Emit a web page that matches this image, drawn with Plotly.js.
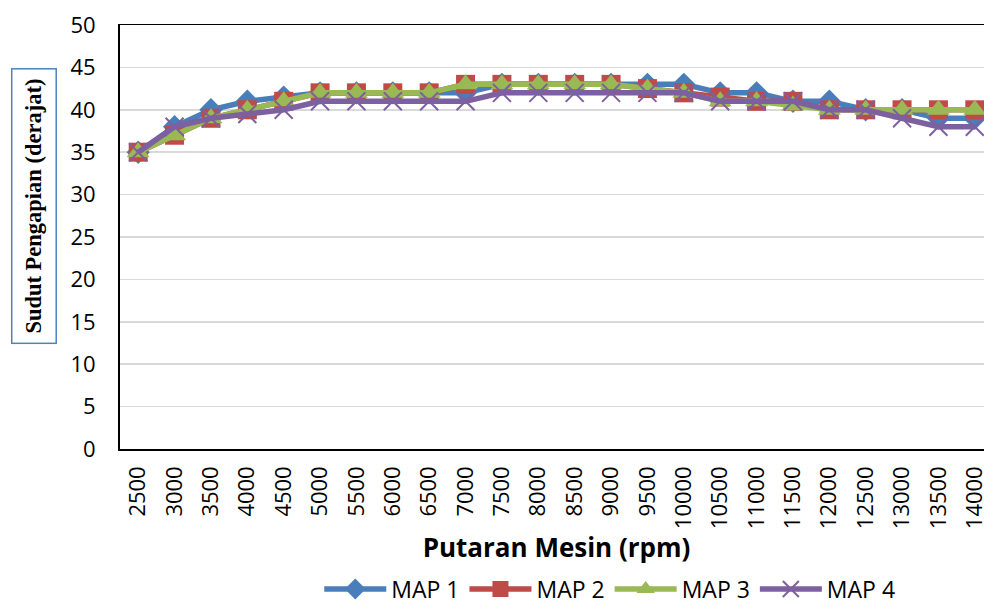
<!DOCTYPE html>
<html>
<head>
<meta charset="utf-8">
<script src="https://cdn.plot.ly/plotly-3.0.1.min.js"></script>
<style>
html,body{margin:0;padding:0;overflow:hidden;background:#fff;width:984px;height:606px;}
#chart{width:1010px;height:606px;}
</style>
</head>
<body>
<div id="chart"></div>
<script>
var rpm = ['2500','3000','3500','4000','4500','5000','5500','6000','6500','7000','7500','8000','8500','9000','9500','10000','10500','11000','11500','12000','12500','13000','13500','14000'];
var map1 = [35,38,40,41,41.5,42,42,42,42,42,43,43,43,43,43,43,42,42,41,41,40,40,39,39];
var map2 = [35,37,39,40,41,42,42,42,42,43,43,43,43,43,42.5,42,41.5,41,41,40,40,40,40,40];
var map3 = [35,37,39,40,41,42,42,42,42,43,43,43,43,43,42.5,42,41,41,40.5,40,40,40,40,40];
var map4 = [35,38,39,39.5,40,41,41,41,41,41,42,42,42,42,42,42,41,41,41,40,40,39,38,38];
var seriesNames = ['MAP 1','MAP 2','MAP 3','MAP 4'];
var yTitle = 'Sudut Pengapian (derajat)';
var xTitle = 'Putaran Mesin (rpm)';

var font = '"Open Sans", Lato, sans-serif';
function tr(name, y, color, symbol, size, lineMarker){
  var m = {symbol: symbol, size: size, color: color};
  if (lineMarker) { m.line = {color: color, width: 2}; }
  return {x: rpm, y: y, name: name, type: 'scatter', mode: 'lines+markers',
    line: {color: color, width: 5.5}, marker: m};
}
var data = [
  tr(seriesNames[0], map1, '#4A7EBB', 'diamond', 18, false),
  tr(seriesNames[1], map2, '#BE4B48', 'square', 19, false),
  tr(seriesNames[2], map3, '#98B954', 'triangle-up', 20, false),
  tr(seriesNames[3], map4, '#7D60A0', 'x-thin', 18, true)
];
var layout = {
  width: 1010, height: 606,
  margin: {l: 120, r: 17, t: 25, b: 157},
  paper_bgcolor: '#fff', plot_bgcolor: '#fff',
  showlegend: true,
  legend: {orientation: 'h', x: 0.561, xanchor: 'center', yref: 'container', y: 0.028, yanchor: 'middle',
    font: {family: font, size: 23, color: '#000'}, itemwidth: 62, tracegroupgap: 0},
  xaxis: {type: 'category', range: [-0.5, 23.5], showgrid: false, showline: true, linecolor: '#000', linewidth: 1.5,
    mirror: true, tickangle: -90, ticks: 'outside', ticklen: 7, tickcolor: 'rgba(0,0,0,0)',
    tickfont: {family: font, size: 22, color: '#000'},
    title: {text: xTitle, font: {family: font, size: 26, color: '#000', weight: 'bold'}, standoff: 8},
    automargin: false, fixedrange: true},
  yaxis: {range: [0, 50], dtick: 5, showgrid: true, gridcolor: '#D9D9D9', gridwidth: 1.5,
    showline: true, linecolor: '#000', linewidth: 2, zeroline: false,
    ticks: 'outside', ticklen: 18, tickcolor: 'rgba(0,0,0,0)',
    tickfont: {family: font, size: 22, color: '#000'}, automargin: false, fixedrange: true},
  annotations: [{
    text: '<b>' + yTitle + '</b>', xref: 'paper', yref: 'paper',
    x: -0.0985, y: 0.573, xanchor: 'center', yanchor: 'middle', textangle: -90, showarrow: false,
    font: {family: '"Liberation Serif", "Times New Roman", serif', size: 22.5, color: '#000'},
    bordercolor: '#4F81BD', borderwidth: 1.5, borderpad: 9, bgcolor: '#fff'
  }]
};
Plotly.newPlot('chart', data, layout, {staticPlot: true, displayModeBar: false});
</script>
</body>
</html>
